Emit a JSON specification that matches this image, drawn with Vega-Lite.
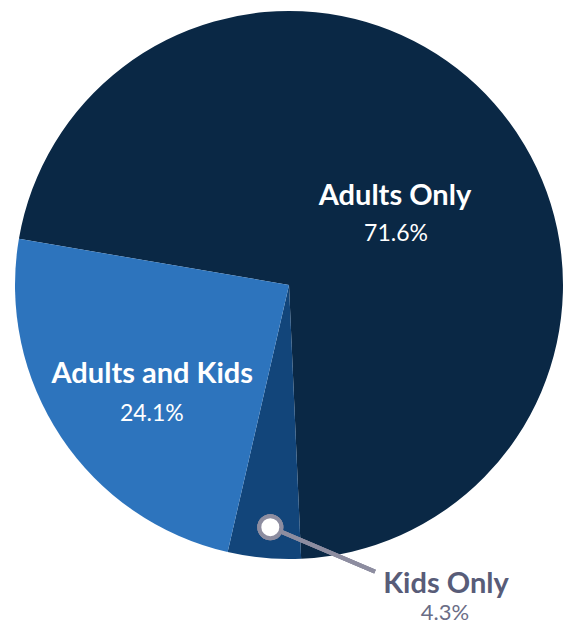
{
  "$schema": "https://vega.github.io/schema/vega-lite/v6.json",
  "width": 560,
  "height": 560,
  "autosize": {"type": "none"},
  "padding": {"left": 9, "top": 5, "right": 4, "bottom": 61},
  "background": "white",
  "config": {"view": {"stroke": null}},
  "data": {
    "values": [
      {"category": "Adults Only", "share": 71.6, "pct": "71.6%", "rank": 1},
      {"category": "Kids Only", "share": 4.3, "pct": "4.3%", "rank": 2},
      {"category": "Adults and Kids", "share": 24.1, "pct": "24.1%", "rank": 3}
    ]
  },
  "layer": [
    {
      "mark": {"type": "arc", "outerRadius": 274, "stroke": null},
      "encoding": {
        "theta": {"field": "share", "type": "quantitative", "stack": true, "scale": {"range": [-1.4015, 4.8817]}},
        "order": {"field": "rank", "type": "quantitative"},
        "color": {
          "field": "category", "type": "nominal", "legend": null,
          "scale": {"domain": ["Adults Only", "Kids Only", "Adults and Kids"], "range": ["#0a2845", "#12457a", "#2d74bd"]}
        }
      }
    },
    {
      "mark": {"type": "rule", "stroke": "#8d8da0", "strokeWidth": 4},
      "encoding": {
        "x": {"datum": -0.0682, "type": "quantitative", "scale": {"domain": [-1.0219, 1.0219], "nice": false, "zero": false}, "axis": null},
        "y": {"datum": -0.884, "type": "quantitative", "scale": {"domain": [-1.0219, 1.0219], "nice": false, "zero": false}, "axis": null},
        "x2": {"datum": 0.3139},
        "y2": {"datum": -1.0464}
      }
    },
    {
      "mark": {"type": "point", "shape": "circle", "filled": true, "fill": "white", "stroke": "#8d8da0", "strokeWidth": 4, "size": 484, "opacity": 1},
      "encoding": {
        "x": {"datum": -0.0682, "type": "quantitative"},
        "y": {"datum": -0.884, "type": "quantitative"}
      }
    },
    {
      "mark": {"type": "text", "radius": 140, "dx": 1, "dy": 12.7, "align": "center", "baseline": "alphabetic", "font": "Lato", "fontWeight": "bold", "fontSize": 29, "fill": "white"},
      "encoding": {
        "theta": {"field": "share", "type": "quantitative", "stack": true},
        "order": {"field": "rank", "type": "quantitative"},
        "text": {"condition": {"test": "datum.category === 'Adults Only'", "field": "category"}, "value": ""}
      }
    },
    {
      "mark": {"type": "text", "radius": 140, "dx": 2, "dy": 48.4, "align": "center", "baseline": "alphabetic", "font": "Lato", "fontSize": 23, "fill": "white"},
      "encoding": {
        "theta": {"field": "share", "type": "quantitative", "stack": true},
        "order": {"field": "rank", "type": "quantitative"},
        "text": {"condition": {"test": "datum.category === 'Adults Only'", "field": "pct"}, "value": ""}
      }
    },
    {
      "mark": {"type": "text", "radius": 160, "dx": -3.6, "dy": 9.6, "align": "center", "baseline": "alphabetic", "font": "Lato", "fontWeight": "bold", "fontSize": 29, "fill": "white"},
      "encoding": {
        "theta": {"field": "share", "type": "quantitative", "stack": true},
        "order": {"field": "rank", "type": "quantitative"},
        "text": {"condition": {"test": "datum.category === 'Adults and Kids'", "field": "category"}, "value": ""}
      }
    },
    {
      "mark": {"type": "text", "radius": 160, "dx": -4, "dy": 47.3, "align": "center", "baseline": "alphabetic", "font": "Lato", "fontSize": 23, "fill": "white"},
      "encoding": {
        "theta": {"field": "share", "type": "quantitative", "stack": true},
        "order": {"field": "rank", "type": "quantitative"},
        "text": {"condition": {"test": "datum.category === 'Adults and Kids'", "field": "pct"}, "value": ""}
      }
    },
    {
      "mark": {"type": "text", "radius": 243, "dx": 179, "dy": 66, "align": "center", "baseline": "alphabetic", "font": "Lato", "fontWeight": "bold", "fontSize": 29, "fill": "#585c78"},
      "encoding": {
        "theta": {"field": "share", "type": "quantitative", "stack": true},
        "order": {"field": "rank", "type": "quantitative"},
        "text": {"condition": {"test": "datum.category === 'Kids Only'", "field": "category"}, "value": ""}
      }
    },
    {
      "mark": {"type": "text", "radius": 243, "dx": 178, "dy": 93, "align": "center", "baseline": "alphabetic", "font": "Lato", "fontSize": 22, "fill": "#6a6d86"},
      "encoding": {
        "theta": {"field": "share", "type": "quantitative", "stack": true},
        "order": {"field": "rank", "type": "quantitative"},
        "text": {"condition": {"test": "datum.category === 'Kids Only'", "field": "pct"}, "value": ""}
      }
    }
  ]
}
